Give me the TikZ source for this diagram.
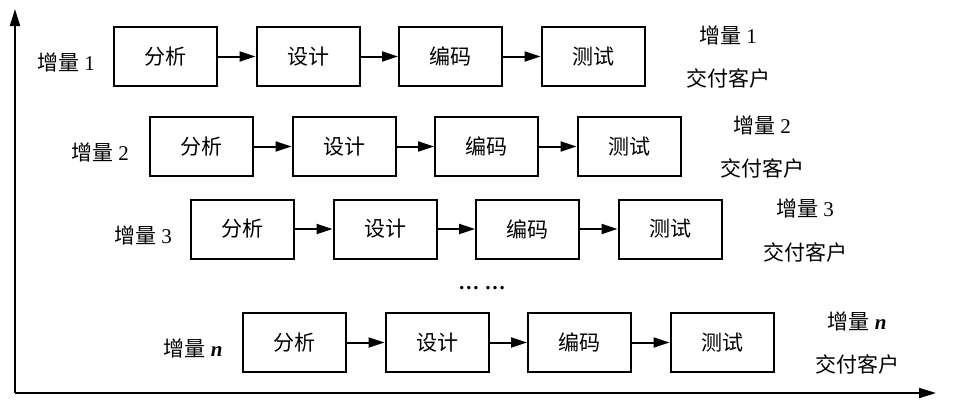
\documentclass[tikz,border=0pt]{standalone}
\usepackage{fontspec}
\setmainfont{Liberation Serif}
\newfontfamily\cjk{Noto Sans CJK SC}
\usetikzlibrary{arrows.meta}
\begin{document}
\begin{tikzpicture}[x=1pt,y=-1pt,
  stage/.style={draw, line width=2pt, minimum width=103pt, minimum height=59pt, inner sep=0pt,
    font=\cjk\fontsize{21}{21}\selectfont},
  lab/.style={inner sep=0pt, font=\fontsize{21}{24}\selectfont},
  flow/.style={line width=2pt, -{Triangle[length=16pt,width=10pt]}},
  axis/.style={line width=2pt, -{Triangle[length=17pt,width=10pt]}}]
\useasboundingbox (0,0) rectangle (953,410);
% axes
\coordinate (origin) at (15,393);
\coordinate (ytop) at (15,9);
\coordinate (xend) at (936,393);
\draw[axis] (origin) -- (ytop);
\draw[axis] (origin) -- (xend);
% rows
\foreach \r/\yc/\xo/\num/\lx/\rx/\ya/\yb in {
  1/56.5/114/1/66/728/35/78,
  2/146.5/150/2/100/762/125/168,
  3/229/191/3/143/805/208/252,
  n/342.5/243/{\textbf{\textit{n}}}/193/857/321/364}{
  \node[stage] (a\r) at (\xo+51.5,\yc) {分析};
  \node[stage] (b\r) at (\xo+194,\yc) {设计};
  \node[stage] (c\r) at (\xo+336.5,\yc) {编码};
  \node[stage] (d\r) at (\xo+479,\yc) {测试};
  \draw[flow] (a\r) -- (b\r);
  \draw[flow] (b\r) -- (c\r);
  \draw[flow] (c\r) -- (d\r);
  \node[lab] (l\r) at (\lx,\yc+6) {{\cjk 增量} \num};
  \node[lab] (i\r) at (\rx,\ya) {{\cjk 增量} \num};
  \node[lab] (k\r) at (\rx,\yb) {\cjk 交付客户};
}
\node[lab] (dots) at (482,288) {\textbf{\textellipsis\ \textellipsis}};
\end{tikzpicture}
\end{document}
